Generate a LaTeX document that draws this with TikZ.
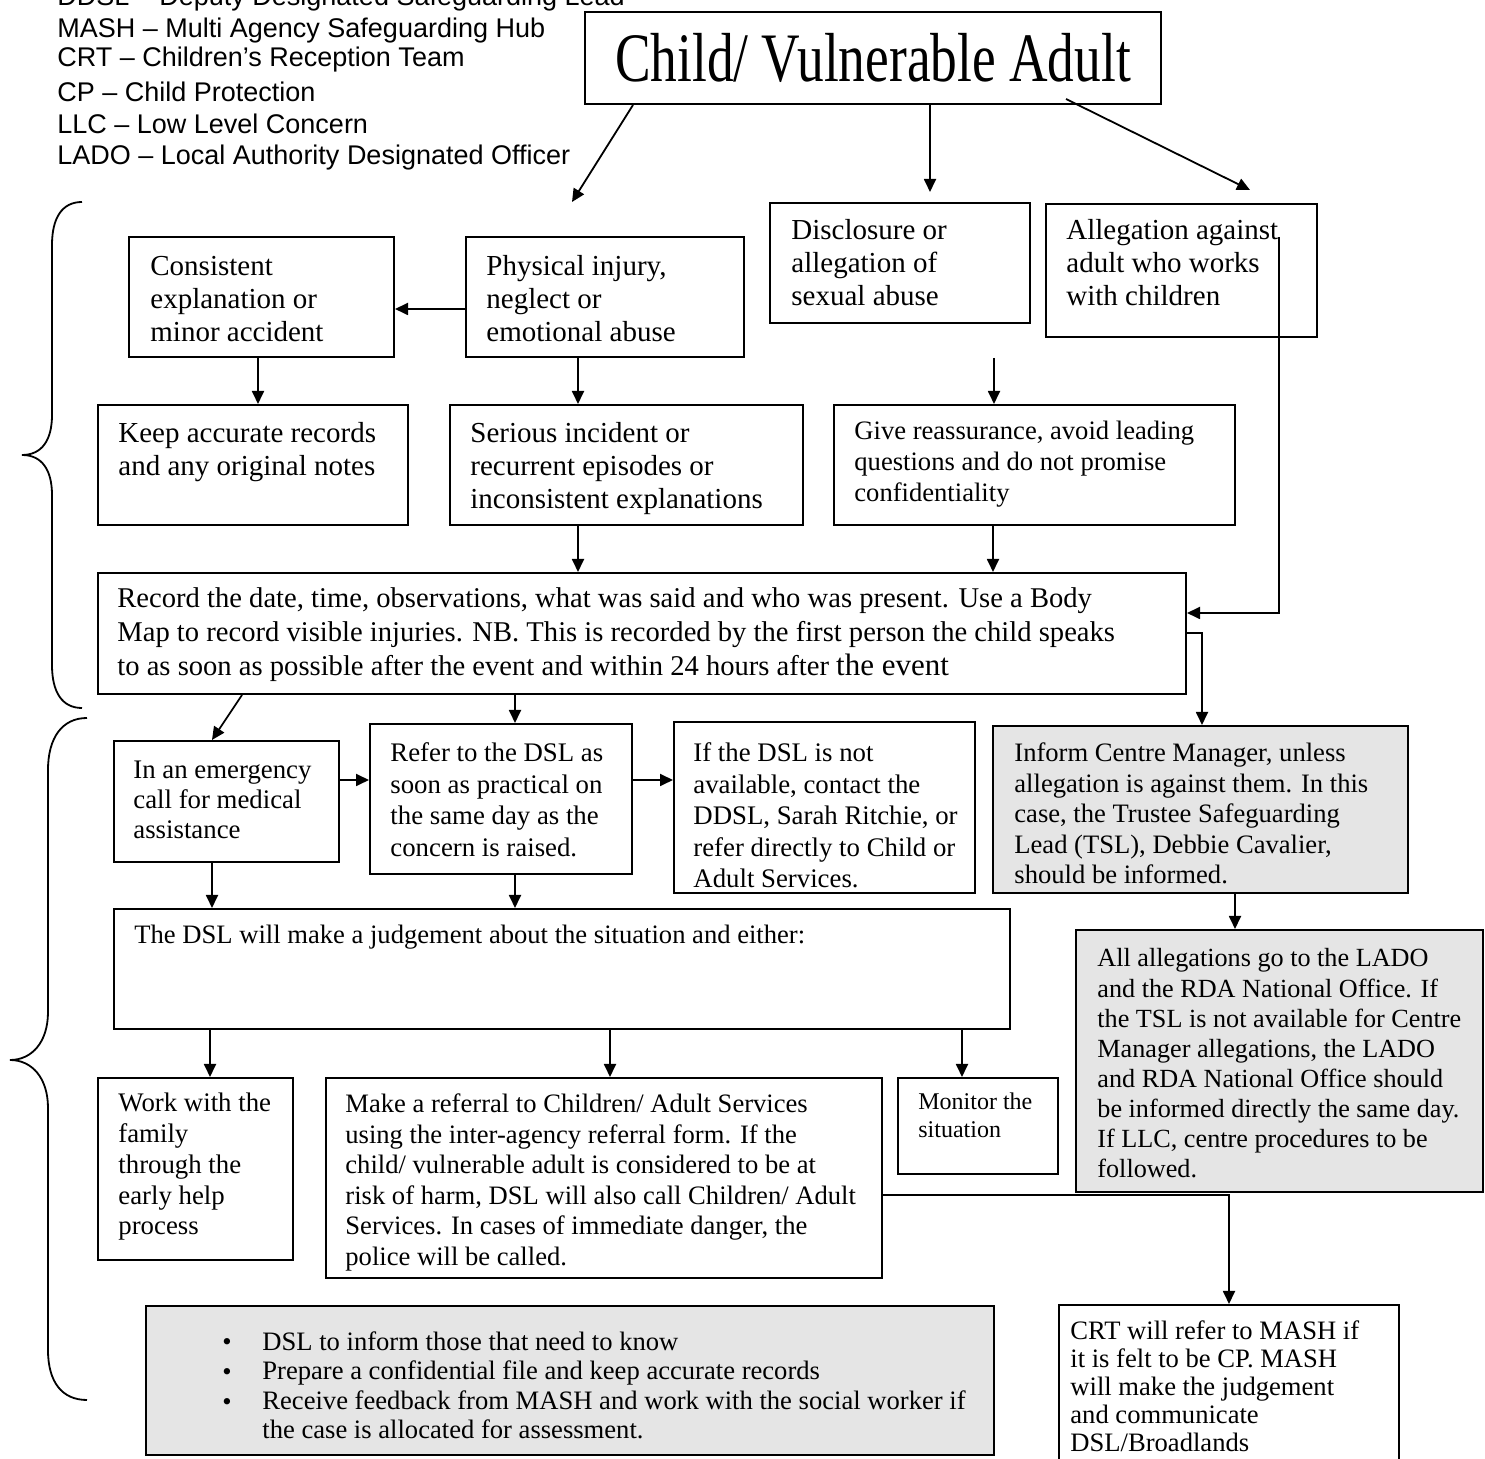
\documentclass[tikz,border=0pt]{standalone}
\usepackage{fontspec}
\usepackage{graphicx}
\setmainfont{Liberation Serif}
\newfontfamily\arialf{Liberation Sans}
\usetikzlibrary{arrows.meta,fit}
\newcommand\ml[1]{\begin{tabular}[t]{@{}l@{}}#1\end{tabular}}
\begin{document}
\begin{tikzpicture}[x=0.5pt,y=-0.5pt,
  box/.style={draw, line width=1pt, inner sep=0pt},
  gbox/.style={box, fill=gray!20},
  arr/.style={line width=0.9pt, -{Triangle[length=6.5pt,width=6pt]}},
  ln/.style={line width=0.9pt},
  txt/.style={anchor=base west, inner sep=0pt, font=\fontsize{14.5}{16.5}\selectfont},
  stxt/.style={anchor=base west, inner sep=0pt, font=\fontsize{13.3}{15.5}\selectfont},
  leg/.style={anchor=base west, inner sep=0pt, font=\arialf\fontsize{13.5}{15}\selectfont}]
\useasboundingbox (0,0) rectangle (1485,1459);
\fill[white] (0,0) rectangle (1485,1459);

% legend
\node[leg] (l1) at (57,6) {DDSL – Deputy Designated Safeguarding Lead};
\node[leg] (l2) at (57,38) {MASH – Multi Agency Safeguarding Hub};
\node[leg] (l3) at (57,67) {CRT – Children’s Reception Team};
\node[leg] (l4) at (57,102) {CP – Child Protection};
\node[leg] (l5) at (57,134) {LLC – Low Level Concern};
\node[leg] (l6) at (57,165) {LADO – Local Authority Designated Officer};

% title
\node[box, fit={(585,12) (1161,104)}] (title) {};
\node[anchor=base, inner sep=0pt, font=\fontsize{26.7}{30}\selectfont] (titleT) at (873,82) {\scalebox{1}[1.3]{Child/ Vulnerable Adult}};

% braces
\draw[ln] (82,202) .. controls (62,202) and (52,218) .. (52,245) -- (52,415)
  .. controls (52,440) and (42,455) .. (22,455)
  .. controls (42,455) and (52,470) .. (52,495) -- (52,665)
  .. controls (52,692) and (62,708) .. (82,708);
\draw[ln] (87,718) .. controls (62,718) and (48,738) .. (48,770) -- (48,1012)
  .. controls (48,1042) and (32,1060) .. (10,1060)
  .. controls (32,1060) and (48,1078) .. (48,1108) -- (48,1350)
  .. controls (48,1382) and (62,1400) .. (87,1400);

% boxes
\node[box, fit={(129,237) (394,357)}] (cons) {};
\node[box, fit={(466,237) (744,357)}] (phys) {};
\node[box, fit={(770,203) (1030,323)}] (discl) {};
\node[box, fit={(1046,204) (1317,337)}] (alleg) {};
\node[box, fit={(98,405) (408,525)}] (keep) {};
\node[box, fit={(450,405) (803,525)}] (serious) {};
\node[box, fit={(834,405) (1235,525)}] (give) {};
\node[box, fit={(98,573) (1186,694)}] (record) {};
\node[box, fit={(114,741) (339,862)}] (emerg) {};
\node[box, fit={(370,724) (632,874)}] (refer) {};
\node[box, fit={(674,722) (975,893)}] (ifdsl) {};
\node[gbox, fit={(993,726) (1408,893)}] (inform) {};
\node[box, fit={(114,909) (1010,1029)}] (dsl) {};
\node[gbox, fit={(1076,930) (1483,1192)}] (allall) {};
\node[box, fit={(98,1078) (293,1260)}] (work) {};
\node[box, fit={(326,1078) (882,1278)}] (makeref) {};
\node[box, fit={(898,1078) (1058,1174)}] (monitor) {};
\node[gbox, fit={(146,1306) (994,1455)}] (bottom) {};
\node[box, fit={(1059,1305) (1399,1475)}] (crt) {};

% texts
\node[txt] (consT) at (150,276) {\ml{Consistent\\explanation or\\minor accident}};
\node[txt] (physT) at (486,276) {\ml{Physical injury,\\neglect or\\emotional abuse}};
\node[txt] (disclT) at (791,240) {\ml{Disclosure or\\allegation of\\sexual abuse}};
\node[txt] (allegT) at (1066,240) {\ml{Allegation against\\adult who works\\with children}};
\node[txt] (keepT) at (118,443) {\ml{Keep accurate records\\and any original notes}};
\node[txt] (seriousT) at (470,443) {\ml{Serious incident or\\recurrent episodes or\\inconsistent explanations}};
\node[stxt] (giveT) at (854,440) {\ml{Give reassurance, avoid leading\\questions and do not promise\\confidentiality}};
\node[txt, font=\fontsize{14.3}{17}\selectfont] (recordT) at (117,608) {\ml{Record the date, time, observations, what was said and who was present. Use a Body\\Map to record visible injuries. NB. This is recorded by the first person the child speaks\\to as soon as possible after the event and within 24 hours after {\fontsize{15.5}{17}\selectfont the event}}};
\node[txt, font=\fontsize{13.4}{15}\selectfont] (emergT) at (133,779) {\ml{In an emergency\\call for medical\\assistance}};
\node[txt, font=\fontsize{13.4}{15.75}\selectfont] (referT) at (390,762) {\ml{Refer to the DSL as\\soon as practical on\\the same day as the\\concern is raised.}};
\node[txt, font=\fontsize{13.4}{15.75}\selectfont] (ifdslT) at (693,762) {\ml{If the DSL is not\\available, contact the\\DDSL, Sarah Ritchie, or\\refer directly to Child or\\Adult Services.}};
\node[txt, font=\fontsize{13.3}{15.25}\selectfont] (informT) at (1014,762) {\ml{Inform Centre Manager, unless\\allegation is against them. In this\\case, the Trustee Safeguarding\\Lead (TSL), Debbie Cavalier,\\should be informed.}};
\node[stxt] (dslT) at (134,944) {The DSL will make a judgement about the situation and either:};
\node[txt, font=\fontsize{13.1}{15.05}\selectfont] (allallT) at (1097,967) {\ml{All allegations go to the LADO\\and the RDA National Office. If\\the TSL is not available for Centre\\Manager allegations, the LADO\\and RDA National Office should\\be informed directly the same day.\\If LLC, centre procedures to be\\followed.}};
\node[txt, font=\fontsize{13.4}{15.35}\selectfont] (workT) at (118,1112) {\ml{Work with the\\family\\through the\\early help\\process}};
\node[txt, font=\fontsize{13.3}{15.25}\selectfont] (makerefT) at (345,1113) {\ml{Make a referral to Children/ Adult Services\\using the inter-agency referral form. If the\\child/ vulnerable adult is considered to be at\\risk of harm, DSL will also call Children/ Adult\\Services. In cases of immediate danger, the\\police will be called.}};
\node[txt, font=\fontsize{12}{13.75}\selectfont] (monitorT) at (918,1110) {\ml{Monitor the\\situation}};
\node[txt, font=\fontsize{13.3}{15}\selectfont] (bulletT) at (222,1350) {\ml{•\\•\\•}};
\node[txt, font=\fontsize{13.3}{14.8}\selectfont] (bottomT) at (262,1350) {\ml{DSL to inform those that need to know\\Prepare a confidential file and keep accurate records\\Receive feedback from MASH and work with the social worker if\\the case is allocated for assessment.}};
\node[txt, font=\fontsize{13.3}{14}\selectfont] (crtT) at (1070,1340) {\ml{CRT will refer to MASH if\\it is felt to be CP. MASH\\will make the judgement\\and communicate\\DSL/Broadlands}};

% free ends
\coordinate (e1) at (572,202);
\coordinate (e2) at (930,192);
\coordinate (e3) at (1250,190);
\coordinate (dg) at (994,358);
\coordinate (as) at (1279,237);

% connectors
\draw[arr] (title.south -| 633,0) -- (e1);
\draw[arr] (title.south -| 930,0) -- (e2);
\draw[arr] ([yshift=3pt]title.south -| 1066,0) -- (e3);
\draw[arr] (phys.west |- 0,309) -- (cons.east |- 0,309);
\draw[arr] (cons.south -| 258,0) -- (keep.north -| 258,0);
\draw[arr] (phys.south -| 578,0) -- (serious.north -| 578,0);
\draw[arr] (dg) -- (give.north -| 994,0);
\draw[arr] (serious.south -| 578,0) -- (record.north -| 578,0);
\draw[arr] (give.south -| 993,0) -- (record.north -| 993,0);
\draw[arr] (as) |- (record.east |- 0,613);
\draw[arr] (record.east |- 0,633) -| (inform.north -| 1202,0);
\draw[arr] (record.south -| 242,0) -- (emerg.north -| 212,0);
\draw[arr] (record.south -| 515,0) -- (refer.north -| 515,0);
\draw[arr] (emerg.east |- 0,780) -- (refer.west |- 0,780);
\draw[arr] (refer.east |- 0,780) -- (ifdsl.west |- 0,780);
\draw[arr] (emerg.south -| 212,0) -- (dsl.north -| 212,0);
\draw[arr] (refer.south -| 515,0) -- (dsl.north -| 515,0);
\draw[arr] (inform.south -| 1235,0) -- (allall.north -| 1235,0);
\draw[arr] (dsl.south -| 210,0) -- (work.north -| 210,0);
\draw[arr] (dsl.south -| 610,0) -- (makeref.north -| 610,0);
\draw[arr] (dsl.south -| 962,0) -- (monitor.north -| 962,0);
\draw[arr] (makeref.east |- 0,1195) -| (crt.north -| 1229,0);
\end{tikzpicture}
\end{document}
